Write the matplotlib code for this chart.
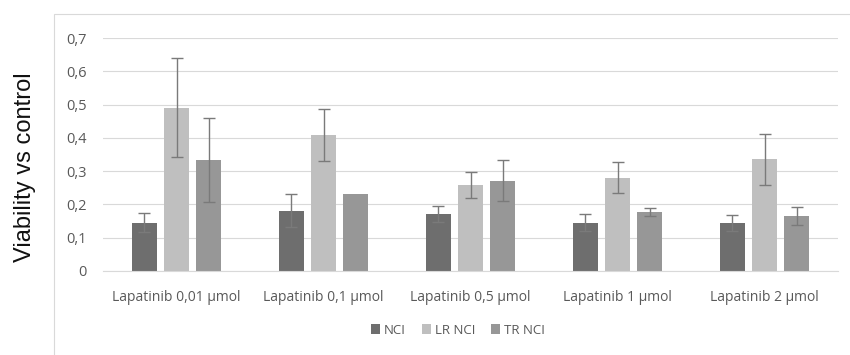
import numpy as np
import matplotlib.pyplot as plt
from matplotlib.patches import Rectangle

# viability values per treatment group
groups = ["Lapatinib 0,01 µmol", "Lapatinib 0,1 µmol", "Lapatinib 0,5 µmol",
          "Lapatinib 1 µmol", "Lapatinib 2 µmol"]
series_names = ["NCI", "LR NCI", "TR NCI"]
nci = [0.145, 0.181, 0.171, 0.145, 0.145]
nci_err = [0.028, 0.050, 0.024, 0.026, 0.024]
lr_nci = [0.491, 0.408, 0.257, 0.280, 0.335]
lr_nci_err = [0.148, 0.078, 0.039, 0.047, 0.077]
tr_nci = [0.333, 0.231, 0.271, 0.178, 0.165]
tr_nci_err = [0.127, 0.0, 0.062, 0.012, 0.026]
y_ticks = [0, 0.1, 0.2, 0.3, 0.4, 0.5, 0.6, 0.7]
y_tick_labels = ["0", "0,1", "0,2", "0,3", "0,4", "0,5", "0,6", "0,7"]

colors = ["#6e6e6e", "#bfbfbf", "#979797"]
tick_color = "#595959"

fig = plt.figure(figsize=(8.5, 3.55), dpi=100)
ax = fig.add_axes([103 / 850, 84 / 355, 735 / 850, 233 / 355])

# light chart-area frame
fig.patches.append(Rectangle((54 / 850, -0.01), 1.0, (355 - 14) / 355 + 0.01,
                             transform=fig.transFigure, fill=False,
                             edgecolor="#d9d9d9", linewidth=0.8))

x = np.arange(len(groups))
width = 0.17
offsets = [-0.22, 0.0, 0.22]
values = [nci, lr_nci, tr_nci]
errors = [nci_err, lr_nci_err, tr_nci_err]

for i in range(3):
    err = np.array(errors[i])
    ax.bar(x + offsets[i], values[i], width, color=colors[i],
           label=series_names[i], zorder=2)
    mask = err > 0
    ax.errorbar((x + offsets[i])[mask], np.array(values[i])[mask], yerr=err[mask],
                fmt="none", ecolor="#7a7a7a", elinewidth=1.0, capsize=4,
                capthick=1.0, zorder=3)

ax.set_xlim(-0.5, len(groups) - 0.5)
ax.set_ylim(0, 0.7)
ax.set_yticks(y_ticks)
ax.set_yticklabels(y_tick_labels)
ax.set_xticks(x)
ax.set_xticklabels(groups)
ax.tick_params(axis="both", length=0, labelsize=10, labelcolor=tick_color,
               labelfontfamily="Open Sans")
ax.tick_params(axis="y", labelsize=10.5, pad=11.5)
ax.tick_params(axis="x", pad=14)
ax.grid(axis="y", color="#d9d9d9", linewidth=0.8, zorder=0)
for side in ["top", "right", "left"]:
    ax.spines[side].set_visible(False)
ax.spines["bottom"].set_color("#d9d9d9")

fig.text(25 / 850, 1 - 167 / 355, "Viability vs control", rotation=90,
         ha="center", va="center", fontsize=17, family="Liberation Sans",
         color="#111111")

leg = fig.legend(loc="center", bbox_to_anchor=(458 / 850, 1 - 330 / 355),
                 ncol=3, frameon=False, handlelength=0.7, handleheight=0.7,
                 handletextpad=0.3, columnspacing=1.2,
                 prop={"family": "Open Sans", "size": 9.5})
for t in leg.get_texts():
    t.set_color(tick_color)

fig.savefig("out.png", dpi=100, facecolor="white")
